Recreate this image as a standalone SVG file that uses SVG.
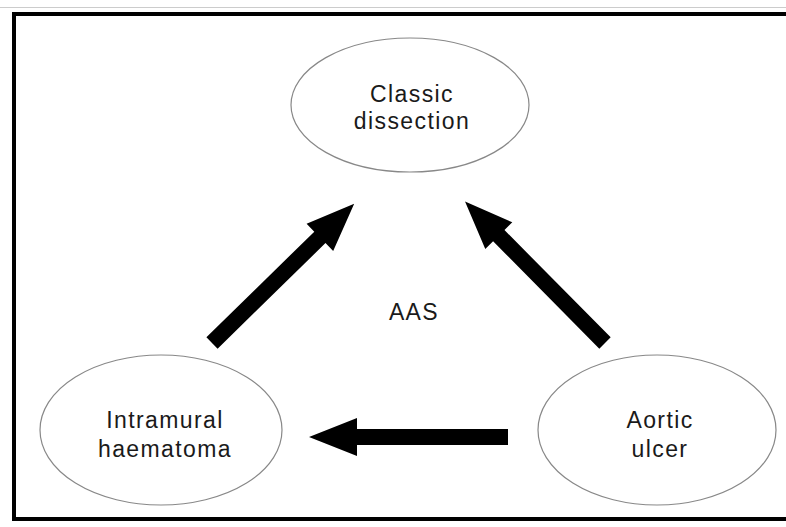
<svg xmlns="http://www.w3.org/2000/svg" width="786" height="527" viewBox="0 0 786 527">
<style>
.node ellipse{fill:#fff;stroke:#888;stroke-width:1.2}
.node text,.lbl{font-family:"Liberation Sans",Arial,sans-serif;font-size:23px;letter-spacing:1.4px;fill:#1a1a1a;text-anchor:middle}
</style>
<defs>
<path id="arr" d="M0,-8 L151,-8 L151,-19 L199,0 L151,19 L151,8 L0,8 Z" fill="#000"/>
</defs>
<rect x="0" y="0" width="786" height="527" fill="#fff"/>
<line x1="0" y1="7.5" x2="786" y2="7.5" stroke="#ccc" stroke-width="1"/>
<rect x="14" y="14" width="790" height="505" fill="none" stroke="#000" stroke-width="4"/>
<g id="classic" class="node">
<ellipse cx="410" cy="105" rx="119" ry="67"/>
<text x="412" y="102">Classic</text>
<text x="412" y="129">dissection</text>
</g>
<g id="intramural" class="node">
<ellipse cx="161" cy="430" rx="121" ry="75"/>
<text x="165" y="428">Intramural</text>
<text x="165" y="457">haematoma</text>
</g>
<g id="ulcer" class="node">
<ellipse cx="657" cy="430" rx="119" ry="75"/>
<text x="660" y="428">Aortic</text>
<text x="660" y="457">ulcer</text>
</g>
<text class="lbl" x="414" y="320">AAS</text>
<g id="connectors">
<use href="#arr" transform="translate(212,343) rotate(-44.4)"/>
<use href="#arr" transform="translate(605,343) rotate(-134.7)"/>
<use href="#arr" transform="translate(508,437) rotate(180)"/>
</g>
</svg>
